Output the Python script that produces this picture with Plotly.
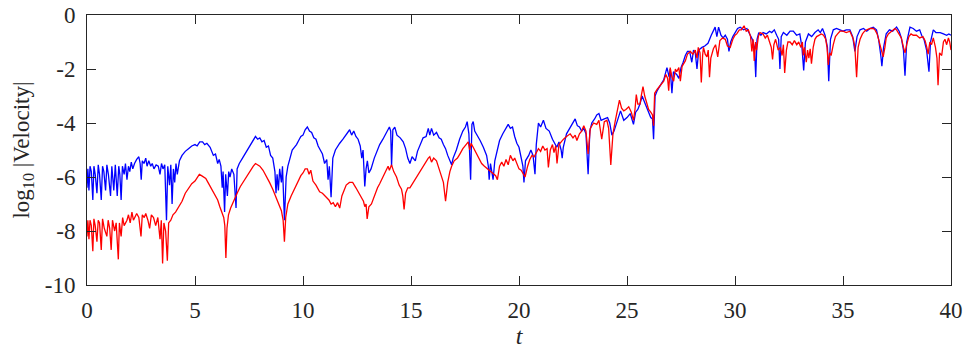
import plotly.graph_objects as go

# ---- data ----
t_blue = [
    0.00, 0.04, 0.09, 0.14, 0.20, 0.27, 0.32, 0.38, 0.46, 0.52,
    0.58, 0.66, 0.72, 0.78, 0.86, 0.92, 0.99, 1.09, 1.15, 1.24,
    1.31, 1.40, 1.47, 1.52, 1.58, 1.64, 1.72, 1.78, 1.85, 1.92,
    1.98, 2.05, 2.12, 2.20, 2.30, 2.40, 2.46, 2.51, 2.56, 2.64,
    2.72, 2.78, 2.86, 2.95, 3.02, 3.10, 3.20, 3.30, 3.38, 3.45,
    3.52, 3.60, 3.68, 3.74, 3.82, 3.88, 3.94, 4.00, 4.06, 4.12,
    4.18, 4.28, 4.40, 4.55, 4.70, 4.85, 5.00, 5.10, 5.22, 5.35,
    5.45, 5.55, 5.70, 5.85, 5.95, 6.05, 6.12, 6.20, 6.26, 6.30,
    6.37, 6.42, 6.50, 6.56, 6.62, 6.70, 6.80, 6.90, 6.95, 7.05,
    7.20, 7.35, 7.50, 7.65, 7.80, 7.90, 8.00, 8.10, 8.20, 8.30,
    8.40, 8.50, 8.60, 8.70, 8.75, 8.80, 8.86, 8.92, 9.00, 9.05,
    9.14, 9.22, 9.30, 9.40, 9.50, 9.60, 9.70, 9.80, 9.90, 10.00,
    10.10, 10.20, 10.30, 10.40, 10.50, 10.60, 10.70, 10.80, 10.90, 11.00,
    11.10, 11.16, 11.22, 11.30, 11.38, 11.50, 11.60, 11.70, 11.85, 12.00,
    12.10, 12.16, 12.25, 12.35, 12.45, 12.55, 12.65, 12.72, 12.78, 12.86,
    12.92, 12.98, 13.05, 13.15, 13.30, 13.45, 13.55, 13.70, 13.85, 14.00,
    14.06, 14.10, 14.16, 14.25, 14.35, 14.50, 14.64, 14.75, 14.85, 14.95,
    15.05, 15.20, 15.30, 15.45, 15.56, 15.70, 15.80, 15.87, 15.95, 16.05,
    16.18, 16.30, 16.40, 16.50, 16.60, 16.70, 16.80, 16.88, 16.95, 17.10,
    17.25, 17.40, 17.52, 17.60, 17.68, 17.76, 17.82, 17.88, 17.95, 18.10,
    18.20, 18.35, 18.50, 18.58, 18.62, 18.68, 18.80, 18.88, 19.00, 19.10,
    19.25, 19.40, 19.50, 19.60, 19.70, 19.80, 19.90, 20.00, 20.10, 20.18,
    20.23, 20.30, 20.45, 20.55, 20.65, 20.74, 20.80, 20.90, 21.00, 21.13,
    21.25, 21.40, 21.55, 21.65, 21.75, 21.85, 21.95, 22.00, 22.05, 22.20,
    22.35, 22.50, 22.60, 22.70, 22.80, 22.90, 23.00, 23.10, 23.20, 23.28,
    23.37, 23.50, 23.60, 23.70, 23.80, 23.95, 24.10, 24.20, 24.30, 24.40,
    24.55, 24.70, 24.85, 25.00, 25.15, 25.30, 25.40, 25.50, 25.60, 25.70,
    25.80, 25.90, 26.00, 26.10, 26.18, 26.23, 26.30, 26.40, 26.55, 26.70,
    26.85, 26.95, 27.00, 27.08, 27.15, 27.30, 27.40, 27.50, 27.60, 27.70,
    27.80, 27.90, 28.00, 28.08, 28.16, 28.24, 28.32, 28.47, 28.60, 28.75,
    28.90, 29.00, 29.08, 29.16, 29.24, 29.35, 29.45, 29.55, 29.65, 29.72,
    29.80, 29.90, 30.00, 30.12, 30.24, 30.40, 30.55, 30.70, 30.80, 30.90,
    30.96, 31.02, 31.10, 31.20, 31.30, 31.45, 31.60, 31.70, 31.82, 31.93,
    32.02, 32.08, 32.14, 32.24, 32.40, 32.55, 32.70, 32.85, 33.00, 33.10,
    33.18, 33.26, 33.40, 33.55, 33.70, 33.85, 33.95, 34.05, 34.17, 34.28,
    34.34, 34.42, 34.55, 34.70, 34.86, 35.00, 35.15, 35.32, 35.45, 35.55,
    35.65, 35.79, 35.95, 36.10, 36.25, 36.40, 36.55, 36.65, 36.75, 36.80,
    36.88, 37.00, 37.15, 37.30, 37.48, 37.60, 37.70, 37.80, 37.87, 37.95,
    38.10, 38.25, 38.40, 38.55, 38.64, 38.75, 38.87, 38.98, 39.05, 39.18,
    39.30, 39.50, 39.65, 39.80, 39.90, 40.00,
]
v_blue = [
    -6.4, -5.7, -6.5, -5.6, -5.8, -6.85, -5.6, -5.9, -6.6, -5.55,
    -5.9, -6.85, -5.6, -5.8, -6.5, -5.55, -5.9, -6.7, -5.6, -6.5,
    -5.55, -6.7, -5.6, -5.9, -6.85, -5.6, -5.9, -5.5, -6.1, -5.6,
    -5.8, -5.45, -5.7, -5.5, -5.35, -5.25, -5.5, -6.1, -5.4, -5.5,
    -5.3, -5.6, -5.4, -5.6, -5.5, -5.7, -5.55, -5.6, -5.9, -5.5,
    -5.7, -5.55, -7.6, -5.6, -6.3, -5.55, -7.0, -5.7, -6.2, -5.5,
    -5.9, -5.4, -5.2, -5.05, -4.95, -4.85, -4.8, -4.85, -4.7, -4.7,
    -4.8, -4.75, -4.9, -5.2, -5.15, -5.5, -5.35, -5.6, -6.4, -5.8,
    -7.3, -5.9, -6.7, -5.8, -6.0, -5.7, -5.9, -7.15, -5.7, -5.5,
    -5.3, -5.1, -4.9, -4.75, -4.5, -4.6, -4.55, -4.7, -4.65, -4.9,
    -4.85, -5.2, -5.3, -5.8, -6.6, -5.9, -6.5, -5.7, -6.2, -5.6,
    -7.6, -6.0, -5.6, -5.3, -5.0, -4.9, -4.8, -4.65, -4.5, -4.45,
    -4.25, -4.15, -4.3, -4.35, -4.55, -4.6, -4.85, -5.0, -5.15, -5.5,
    -5.35, -6.1, -5.6, -6.75, -5.3, -5.0, -4.85, -4.75, -4.6, -4.45,
    -4.35, -4.25, -4.45, -4.3, -4.5, -4.6, -4.85, -5.3, -5.0, -6.35,
    -5.7, -5.4, -5.85, -5.7, -5.3, -5.0, -4.8, -4.6, -4.4, -4.15,
    -4.3, -5.6, -4.25, -4.15, -4.45, -4.55, -4.7, -4.95, -5.3, -5.5,
    -5.25, -5.4, -5.05, -4.75, -4.55, -4.5, -4.2, -4.45, -4.2, -4.45,
    -4.35, -4.55, -4.6, -4.8, -4.95, -5.2, -5.4, -5.55, -5.3, -5.0,
    -4.6, -4.3, -4.15, -3.95, -4.4, -6.1, -4.05, -3.95, -4.3, -4.5,
    -4.65, -4.9, -5.2, -5.6, -6.1, -5.5, -6.1, -5.4, -4.95, -4.65,
    -4.4, -4.2, -4.05, -4.2, -4.15, -4.5, -4.75, -4.9, -5.3, -5.6,
    -6.2, -5.4, -5.2, -5.0, -5.2, -5.9, -4.8, -4.0, -4.15, -3.9,
    -4.2, -4.3, -4.6, -4.75, -4.9, -4.7, -5.0, -5.3, -4.9, -4.4,
    -4.2, -3.95, -3.85, -4.1, -4.15, -4.3, -4.2, -4.4, -5.9, -4.3,
    -4.0, -3.85, -3.7, -3.65, -3.9, -3.85, -3.8, -4.0, -4.45, -4.3,
    -3.9, -3.55, -3.9, -3.8, -3.65, -4.05, -3.6, -3.5, -3.3, -3.0,
    -3.2, -3.4, -3.6, -3.8, -3.85, -4.6, -3.0, -2.8, -2.6, -2.4,
    -1.95, -2.3, -2.0, -2.9, -2.1, -2.2, -2.35, -1.95, -1.75, -1.5,
    -1.35, -1.35, -1.75, -1.3, -1.4, -2.0, -1.3, -1.2, -1.15, -1.05,
    -0.75, -0.6, -0.45, -0.8, -0.45, -0.75, -0.85, -0.75, -0.9, -1.35,
    -1.0, -0.8, -0.65, -0.5, -0.45, -0.55, -0.5, -0.75, -0.9, -1.2,
    -2.3, -0.9, -0.65, -0.75, -0.65, -0.7, -0.6, -0.65, -0.55, -0.75,
    -0.9, -2.0, -0.8, -0.65, -0.75, -0.6, -0.6, -0.75, -0.7, -1.2,
    -2.05, -1.0, -0.7, -0.8, -0.65, -0.55, -0.65, -0.5, -0.75, -1.2,
    -2.45, -0.9, -0.55, -0.5, -0.55, -0.6, -0.55, -0.55, -0.8, -1.35,
    -0.8, -0.55, -0.5, -0.6, -0.5, -0.45, -0.55, -0.9, -1.5, -1.9,
    -1.2, -0.7, -0.55, -0.6, -0.45, -0.6, -0.85, -1.3, -2.25, -1.0,
    -0.45, -0.5, -0.6, -0.55, -0.75, -0.9, -1.3, -2.1, -1.0, -0.55,
    -0.65, -0.65, -0.7, -0.75, -0.7, -0.75,
]

t_red = [
    0.00, 0.04, 0.09, 0.14, 0.20, 0.27, 0.32, 0.38, 0.46, 0.52,
    0.58, 0.66, 0.72, 0.80, 0.92, 0.98, 1.05, 1.12, 1.18, 1.28,
    1.35, 1.45, 1.50, 1.58, 1.65, 1.72, 1.85, 1.92, 2.00, 2.08,
    2.15, 2.22, 2.30, 2.40, 2.50, 2.56, 2.65, 2.72, 2.82, 2.90,
    2.98, 3.08, 3.18, 3.28, 3.38, 3.44, 3.50, 3.56, 3.64, 3.72,
    3.78, 3.88, 3.98, 4.10, 4.25, 4.40, 4.55, 4.70, 4.85, 5.00,
    5.10, 5.20, 5.30, 5.40, 5.50, 5.60, 5.75, 5.90, 6.05, 6.15,
    6.25, 6.33, 6.38, 6.43, 6.48, 6.55, 6.65, 6.80, 6.95, 7.10,
    7.25, 7.40, 7.55, 7.70, 7.80, 7.90, 8.00, 8.15, 8.30, 8.45,
    8.60, 8.75, 8.90, 9.00, 9.08, 9.14, 9.20, 9.30, 9.45, 9.60,
    9.75, 9.90, 10.00, 10.10, 10.20, 10.28, 10.36, 10.46, 10.60, 10.77,
    10.90, 11.08, 11.20, 11.30, 11.40, 11.50, 11.60, 11.70, 11.80, 11.90,
    12.00, 12.15, 12.30, 12.45, 12.55, 12.70, 12.80, 12.86, 12.92, 12.97,
    13.05, 13.17, 13.30, 13.45, 13.55, 13.70, 13.85, 13.94, 14.00, 14.10,
    14.20, 14.33, 14.45, 14.56, 14.62, 14.68, 14.75, 14.85, 14.95, 15.10,
    15.25, 15.40, 15.55, 15.70, 15.80, 15.87, 15.95, 16.05, 16.18, 16.30,
    16.40, 16.50, 16.60, 16.70, 16.80, 16.88, 17.00, 17.15, 17.26, 17.40,
    17.55, 17.65, 17.72, 17.78, 17.88, 18.00, 18.15, 18.27, 18.40, 18.55,
    18.65, 18.80, 18.92, 19.00, 19.10, 19.20, 19.30, 19.40, 19.50, 19.60,
    19.72, 19.80, 19.90, 20.00, 20.10, 20.20, 20.28, 20.40, 20.50, 20.60,
    20.70, 20.80, 20.90, 21.00, 21.10, 21.20, 21.30, 21.36, 21.45, 21.55,
    21.62, 21.70, 21.76, 21.85, 21.95, 22.06, 22.20, 22.37, 22.50, 22.60,
    22.68, 22.80, 22.90, 23.00, 23.10, 23.20, 23.30, 23.45, 23.60, 23.70,
    23.83, 23.95, 24.07, 24.15, 24.25, 24.35, 24.45, 24.55, 24.65, 24.75,
    24.85, 24.95, 25.08, 25.20, 25.30, 25.37, 25.43, 25.50, 25.60, 25.67,
    25.74, 25.82, 25.90, 26.00, 26.10, 26.18, 26.23, 26.28, 26.40, 26.55,
    26.70, 26.80, 26.88, 26.93, 27.00, 27.08, 27.16, 27.24, 27.30, 27.40,
    27.47, 27.55, 27.70, 27.80, 27.93, 28.05, 28.16, 28.24, 28.30, 28.38,
    28.44, 28.50, 28.54, 28.62, 28.70, 28.76, 28.82, 28.88, 29.00, 29.10,
    29.20, 29.30, 29.42, 29.55, 29.65, 29.78, 29.90, 30.00, 30.08, 30.20,
    30.30, 30.42, 30.52, 30.62, 30.72, 30.78, 30.84, 30.89, 30.95, 31.00,
    31.08, 31.16, 31.30, 31.40, 31.50, 31.60, 31.68, 31.74, 31.80, 31.88,
    31.93, 32.00, 32.10, 32.18, 32.24, 32.30, 32.38, 32.45, 32.55, 32.65,
    32.75, 32.86, 32.95, 33.05, 33.12, 33.16, 33.22, 33.30, 33.36, 33.42,
    33.48, 33.54, 33.62, 33.70, 33.78, 33.90, 34.00, 34.10, 34.20, 34.26,
    34.32, 34.38, 34.45, 34.55, 34.65, 34.75, 34.86, 35.00, 35.15, 35.32,
    35.40, 35.48, 35.55, 35.63, 35.70, 35.79, 35.90, 36.00, 36.10, 36.25,
    36.40, 36.48, 36.58, 36.70, 36.78, 36.86, 36.94, 37.00, 37.10, 37.25,
    37.40, 37.48, 37.60, 37.70, 37.80, 37.87, 37.95, 38.05, 38.15, 38.25,
    38.40, 38.55, 38.70, 38.80, 38.88, 38.94, 39.02, 39.10, 39.18, 39.28,
    39.35, 39.40, 39.47, 39.57, 39.65, 39.72, 39.80, 39.88, 39.94, 40.00,
]
v_red = [
    -8.2, -7.6, -8.3, -7.6, -7.8, -8.75, -7.55, -7.8, -8.4, -7.6,
    -7.7, -8.7, -7.55, -7.9, -8.2, -7.6, -7.9, -8.7, -7.6, -8.0,
    -7.7, -9.05, -7.7, -8.2, -7.5, -7.8, -7.6, -7.4, -7.7, -7.3,
    -7.6, -7.45, -7.35, -7.5, -8.2, -7.4, -7.5, -7.35, -7.6, -7.9,
    -7.4, -7.5, -7.8, -7.5, -8.3, -7.6, -9.2, -7.7, -8.0, -9.1,
    -7.7, -7.6, -7.4, -7.3, -7.1, -6.9, -6.6, -6.4, -6.25, -6.15,
    -6.0, -5.9, -5.95, -6.0, -6.05, -6.2, -6.4, -6.6, -6.85, -7.1,
    -7.3, -7.5, -7.8, -9.0, -7.9, -7.4, -7.15, -6.85, -6.6, -6.35,
    -6.15, -5.95, -5.75, -5.6, -5.5, -5.55, -5.6, -5.75, -5.95, -6.2,
    -6.45, -6.75, -7.05, -7.25, -7.6, -8.4, -7.5, -7.0, -6.7, -6.45,
    -6.2, -5.95, -5.85, -5.7, -5.7, -5.9, -5.75, -6.15, -6.3, -6.55,
    -6.6, -6.75, -6.85, -7.0, -6.95, -7.1, -6.95, -7.15, -6.7, -6.5,
    -6.3, -6.2, -6.2, -6.4, -6.55, -6.75, -6.9, -7.1, -7.0, -7.55,
    -7.1, -7.0, -6.7, -6.4, -6.25, -6.0, -5.8, -5.6, -5.75, -5.55,
    -5.8, -6.0, -6.3, -6.45, -6.7, -7.2, -6.6, -6.4, -6.4, -6.2,
    -6.05, -5.85, -5.65, -5.45, -5.3, -5.25, -5.45, -5.3, -5.4, -5.7,
    -5.95, -6.2, -6.9, -6.2, -5.8, -5.6, -5.4, -5.3, -5.15, -4.95,
    -4.8, -4.7, -5.0, -4.75, -4.9, -5.1, -5.3, -5.5, -5.6, -5.7,
    -5.75, -5.85, -5.95, -6.1, -5.6, -5.45, -5.6, -5.35, -5.55, -5.2,
    -5.4, -5.3, -5.5, -5.7, -5.75, -5.9, -6.0, -5.6, -5.35, -5.2,
    -5.25, -5.1, -4.95, -5.05, -4.85, -5.0, -4.95, -5.65, -5.0, -4.8,
    -5.1, -4.85, -5.5, -4.8, -4.7, -4.6, -4.5, -4.4, -4.55, -4.45,
    -4.65, -4.4, -4.3, -4.1, -4.3, -5.15, -4.2, -4.0, -4.05, -3.9,
    -4.6, -3.95, -3.9, -4.2, -5.55, -4.4, -3.95, -3.6, -3.15, -3.45,
    -3.55, -3.5, -3.4, -3.6, -3.9, -3.5, -2.95, -3.3, -3.3, -2.95,
    -2.65, -3.0, -3.2, -3.5, -3.6, -3.7, -4.1, -2.9, -2.75, -2.6,
    -2.45, -2.2, -2.35, -2.8, -1.95, -2.3, -2.45, -2.0, -2.1, -1.95,
    -2.45, -1.9, -1.7, -1.45, -1.35, -1.45, -1.3, -1.6, -1.2, -1.4,
    -2.5, -1.5, -1.2, -1.45, -1.55, -1.3, -2.3, -1.6, -1.25, -1.1,
    -1.55, -0.95, -0.85, -0.9, -1.15, -1.2, -0.9, -0.75, -0.7, -0.55,
    -0.55, -0.4, -0.6, -0.55, -0.8, -1.35, -0.9, -1.7, -1.0, -1.3,
    -0.8, -0.65, -0.7, -0.85, -0.75, -1.0, -1.2, -1.65, -1.1, -0.9,
    -1.05, -1.3, -1.2, -1.5, -1.1, -2.15, -1.3, -1.0, -1.0, -1.1,
    -0.95, -1.1, -1.0, -1.2, -1.0, -1.5, -1.2, -1.75, -1.3, -1.6,
    -1.25, -1.8, -1.2, -0.9, -0.8, -0.75, -0.7, -0.75, -0.9, -1.2,
    -1.85, -1.4, -1.5, -1.1, -0.8, -0.7, -0.6, -0.6, -0.65, -0.6,
    -0.75, -0.9, -1.2, -2.3, -1.2, -0.9, -0.7, -0.6, -0.55, -0.5,
    -0.5, -0.55, -0.7, -1.05, -1.3, -1.55, -1.2, -0.85, -0.7, -0.6,
    -0.5, -0.55, -0.7, -0.85, -1.2, -1.4, -1.1, -0.8, -0.7, -0.75,
    -0.75, -0.85, -0.8, -0.95, -1.2, -1.45, -1.0, -1.1, -0.85, -1.2,
    -1.6, -2.6, -1.4, -1.5, -1.0, -0.9, -1.1, -0.85, -1.0, -1.3,
]

x_tick_vals = [0, 5, 10, 15, 20, 25, 30, 35, 40]
x_tick_text = ["0", "5", "10", "15", "20", "25", "30", "35", "40"]
y_tick_vals = [-10, -8, -6, -4, -2, 0]
y_tick_text = ["-10", "-8", "-6", "-4", "-2", "0"]

if len(t_blue) != len(v_blue) or len(t_red) != len(v_red):
    raise ValueError(f"length mismatch {len(t_blue)} {len(v_blue)} {len(t_red)} {len(v_red)}")

FONT = "Liberation Serif, Times New Roman, serif"
AXC = "#262626"

fig = go.Figure()
fig.add_trace(go.Scatter(x=t_blue, y=v_blue, mode="lines",
                         line=dict(color="#0000FF", width=1.3), showlegend=False))
fig.add_trace(go.Scatter(x=t_red, y=v_red, mode="lines",
                         line=dict(color="#FF0000", width=1.3), showlegend=False))

axis_common = dict(showgrid=False, zeroline=False, showline=True, linecolor=AXC,
                   linewidth=1, mirror="ticks", ticks="inside", ticklen=9,
                   tickcolor=AXC, tickwidth=1, automargin=False,
                   ticklabeloverflow="allow",
                   tickfont=dict(family=FONT, size=23, color=AXC))

fig.update_layout(
    width=968, height=352,
    margin=dict(l=87, r=17, t=15, b=67),
    paper_bgcolor="white", plot_bgcolor="white",
    font=dict(family=FONT, color=AXC),
    xaxis=dict(range=[0, 40], tickmode="array", tickvals=x_tick_vals,
               ticktext=x_tick_text, ticklabelstandoff=4,
               title=dict(text="<i>t</i>", font=dict(family=FONT, size=24, color=AXC), standoff=3),
               **axis_common),
    yaxis=dict(range=[-10, 0], tickmode="array", tickvals=y_tick_vals,
               ticktext=y_tick_text, ticklabelstandoff=6,
               title=dict(text="log<sub>10</sub> |Velocity|",
                          font=dict(family=FONT, size=23, color=AXC), standoff=8),
               **axis_common),
)

# remove the default 8px body margin so the figure fills the window exactly
fig.write_html("out.html",
               config={"displayModeBar": False},
               post_script="document.body.style.margin='0px';document.body.style.overflow='hidden';")
